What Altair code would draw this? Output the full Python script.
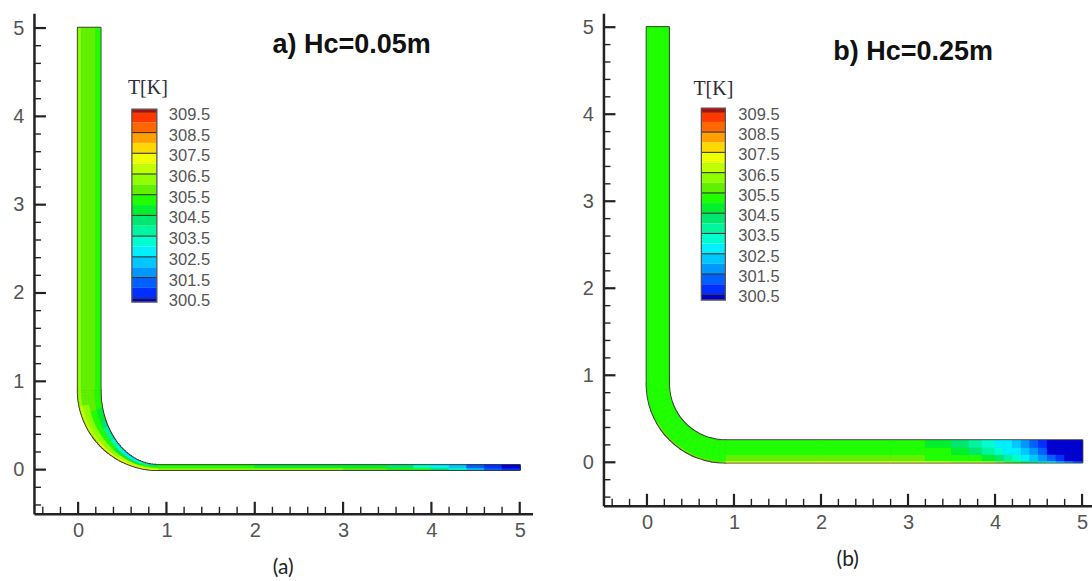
import math
import altair as alt
import pandas as pd

# ---------------- shared values ----------------
LEVELS = [300.5, 301.0, 301.5, 302.0, 302.5, 303.0, 303.5, 304.0, 304.5, 305.0,
          305.5, 306.0, 306.5, 307.0, 307.5, 308.0, 308.5, 309.0, 309.5]
BAND_COLORS = ["#0000d0", "#0030ff", "#0060ff", "#0098ff", "#00c8ff", "#00f0ff",
               "#00ffd0", "#00f5a0", "#00e870", "#00f030", "#20ff00", "#60f000",
               "#90ff00", "#c0ff00", "#f0ff00", "#ffd800", "#ffa000", "#ff6800",
               "#ff3800", "#d00000"]
LEGEND_LABELS = [309.5, 308.5, 307.5, 306.5, 305.5, 304.5, 303.5, 302.5, 301.5, 300.5]
MAJOR_TICKS = [0, 1, 2, 3, 4, 5]
MINOR_TICKS = [-0.4, -0.2, 0.2, 0.4, 0.6, 0.8, 1.2, 1.4, 1.6, 1.8, 2.2, 2.4, 2.6, 2.8,
               3.2, 3.4, 3.6, 3.8, 4.2, 4.4, 4.6, 4.8]

# ---------------- panel a : Hc = 0.05 m ----------------
A_TITLE = "a) Hc=0.05m"
A_CAPTION = "(a)"
A_DUCT_W = 0.25
A_TOP = 5.0
A_CX, A_CY, A_R_OUT = 0.9, 0.9, 0.9
A_IN_AX, A_IN_AY = 0.65, 0.85          # inner wall of the bend (semi-axes)
A_X_END = 5.0
A_HC = 0.05
A_V_XEDGES = [0.0, 0.035, 0.09, 0.2, 0.25]
A_V_T = [306.4, 305.9, 305.7, 305.4]
A_E_FRAC = [0.0, 0.15, 0.45, 0.75, 1.0]
A_E_T = [
    [306.4, 306.4, 306.5, 306.6, 306.7, 306.8, 306.9, 307.0, 307.0, 307.1, 307.2, 307.2, 307.3, 307.3, 307.2],
    [305.9, 305.9, 306.0, 306.1, 306.2, 306.2, 306.3, 306.3, 306.4, 306.4, 306.5, 306.5, 306.6, 306.6, 306.5],
    [305.6, 305.6, 305.5, 305.4, 305.4, 305.3, 305.2, 305.1, 305.0, 304.9, 304.8, 304.8, 304.9, 305.1, 305.3],
    [305.3, 305.2, 305.0, 304.8, 304.5, 304.2, 303.9, 303.6, 303.3, 303.1, 302.9, 302.9, 303.1, 303.6, 304.4],
]
A_H_XEDGES = [0.9, 2.0, 3.0, 3.5, 3.8, 4.0, 4.2, 4.4, 4.6, 4.8, 5.0]
A_H_YEDGES = [0.0, 0.02, 0.05]
A_H_T = [
    [306.3, 306.0, 305.7, 305.4, 305.0, 304.2, 303.2, 302.2, 301.4, 300.8],
    [305.2, 304.8, 304.6, 304.2, 303.4, 302.8, 302.0, 301.2, 300.6, 300.3],
]

# ---------------- panel b : Hc = 0.25 m ----------------
B_TITLE = "b) Hc=0.25m"
B_CAPTION = "(b)"
B_DUCT_W = 0.25
B_TOP = 5.0
B_CX, B_CY, B_R_OUT = 0.9, 0.9, 0.9
B_IN_AX, B_IN_AY = 0.65, 0.65
B_X_END = 5.0
B_HC = 0.25
B_V_XEDGES = [0.0, 0.02, 0.25]
B_V_T = [305.4, 305.2]
B_E_FRAC = [0.0, 0.08, 1.0]
B_E_T = [
    [305.3, 305.4, 305.5, 305.6, 305.7, 305.8],
    [305.2, 305.2, 305.2, 305.2, 305.2, 305.2],
]
B_H_XEDGES = [0.9, 2.0, 2.8, 3.2, 3.5, 3.7, 3.85, 4.0, 4.1, 4.2, 4.3, 4.4, 4.5,
              4.6, 4.7, 4.8, 4.9, 5.0]
B_H_YEDGES = [0.0, 0.015, 0.09, 0.17, 0.25]
B_H_T = [
    [307.2, 307.2, 307.1, 307.0, 306.9, 306.8, 306.6, 306.2, 305.8, 305.3, 304.8, 304.2, 303.6, 303.0, 302.4, 301.8, 301.2],
    [305.8, 305.7, 305.6, 305.4, 305.2, 305.1, 304.8, 304.4, 303.9, 303.3, 302.7, 302.2, 301.6, 301.1, 300.6, 300.4, 300.3],
    [305.3, 305.3, 305.2, 305.1, 304.8, 304.4, 303.9, 303.3, 302.9, 302.6, 302.2, 301.7, 301.2, 300.4, 300.3, 300.3, 300.3],
    [305.2, 305.2, 305.2, 304.8, 304.2, 303.7, 303.2, 302.8, 302.6, 302.2, 301.8, 301.3, 300.8, 300.3, 300.3, 300.3, 300.3],
]

# legend bar extents (temperature at bar top / bottom)
A_LEG_RANGE = [300.32, 309.63]
B_LEG_RANGE = [300.22, 309.68]

# ---------------- styling ----------------
BORDER = "#3a3a3a"
AXIS_COLOR = "#222222"
LABEL_COLOR = "#555555"
GEO_SPLIT = 3            # drawing sub-sectors per temperature sector in the bend
CSCALE = alt.Scale(type="threshold", domain=LEVELS, range=BAND_COLORS)


def rect_cells(xe, ye, T):
    rows = []
    for k in range(len(ye) - 1):
        for i in range(len(xe) - 1):
            rows.append(dict(x0=xe[i], x1=xe[i + 1], y0=ye[k], y1=ye[k + 1], T=T[k][i]))
    return pd.DataFrame(rows)


def inner_radius(phi, ax, ay):
    # distance from the bend centre to the inner wall (ellipse) along direction phi
    return 1.0 / math.sqrt((math.cos(phi) / ax) ** 2 + (math.sin(phi) / ay) ** 2)


def elbow_cells(cx, cy, R, ax, ay, frac, T):
    n_t = len(T[0])
    n = n_t * GEO_SPLIT
    d = (math.pi / 2) / n
    rows = []
    for j in range(n):
        t1 = 1.5 * math.pi - j * d
        t0 = t1 - d
        rin = inner_radius(math.pi + (j + 0.5) * d, ax, ay)
        for k in range(len(frac) - 1):
            ro = R - frac[k] * (R - rin)
            ri = R - frac[k + 1] * (R - rin)
            rows.append(dict(cx=cx, cy=cy, t0=t0, t1=t1, ro=ro, ri=ri, T=T[k][j // GEO_SPLIT]))
    return pd.DataFrame(rows)


def panel(p):
    K, W, H = p["K"], p["W"], p["H"]
    xs = alt.Scale(domain=[-0.5, -0.5 + W / K], nice=False, zero=False)
    ys = alt.Scale(domain=[-0.5, -0.5 + H / K], nice=False, zero=False)
    rs = alt.Scale(type="linear", domain=[0, 1], range=[0, K], nice=False)
    ax_x = alt.Axis(values=MAJOR_TICKS, ticks=False, grid=False, title=None, format="d",
                    labelFont="Liberation Sans", labelFontSize=20, labelColor=LABEL_COLOR,
                    labelPadding=7, domainColor=AXIS_COLOR, domainWidth=2.5)
    ax_y = alt.Axis(values=MAJOR_TICKS, ticks=False, grid=False, title=None, format="d",
                    labelFont="Liberation Sans", labelFontSize=20, labelColor=LABEL_COLOR,
                    labelPadding=10, domainColor=AXIS_COLOR, domainWidth=2.5)

    def X(f):
        return alt.X(f, scale=xs, axis=ax_x)

    def Y(f):
        return alt.Y(f, scale=ys, axis=ax_y)

    v_cells = rect_cells(p["v_xe"], [p["cy"], p["top"]], [p["v_t"]])
    h_cells = rect_cells(p["h_xe"], p["h_ye"], p["h_t"])
    cells = pd.concat([v_cells, h_cells], ignore_index=True)
    e_cells = elbow_cells(p["cx"], p["cy"], p["r_out"], p["in_ax"], p["in_ay"], p["frac"], p["e_t"])
    back_r = pd.DataFrame([
        dict(x0=0.0, x1=p["w"], y0=p["cy"], y1=p["top"]),
        dict(x0=p["cx"], x1=p["x_end"], y0=0.0, y1=p["hc"]),
    ])
    back_e = elbow_cells(p["cx"], p["cy"], p["r_out"], p["in_ax"], p["in_ay"], [0.0, 1.0],
                         [p["e_t"][0]])

    arc_enc = dict(
        x=X("cx:Q"), y=Y("cy:Q"),
        theta=alt.Theta("t0:Q", scale=None, stack=False), theta2=alt.Theta2("t1"),
        radius=alt.Radius("ro:Q", scale=rs), radius2=alt.Radius2("ri"),
    )
    l_back_r = alt.Chart(back_r).mark_rect(fill=BORDER, stroke=BORDER, strokeWidth=2.6,
                                           strokeJoin="round").encode(
        x=X("x0:Q"), x2="x1", y=Y("y0:Q"), y2="y1")
    l_back_e = alt.Chart(back_e).mark_arc(fill=BORDER, stroke=BORDER, strokeWidth=2.6,
                                          strokeJoin="round").encode(**arc_enc)
    l_cells = alt.Chart(cells).mark_rect(strokeWidth=0.7).encode(
        x=X("x0:Q"), x2="x1", y=Y("y0:Q"), y2="y1",
        color=alt.Color("T:Q", scale=CSCALE, legend=None),
        stroke=alt.Stroke("T:Q", scale=CSCALE, legend=None))
    l_ecells = alt.Chart(e_cells).mark_arc(strokeWidth=0.7).encode(
        color=alt.Color("T:Q", scale=CSCALE, legend=None),
        stroke=alt.Stroke("T:Q", scale=CSCALE, legend=None), **arc_enc)

    major = pd.DataFrame({"v": MAJOR_TICKS})
    minor = pd.DataFrame({"v": MINOR_TICKS})
    t_ymaj = alt.Chart(major).mark_rule(color=AXIS_COLOR, strokeWidth=2.2).encode(
        y=Y("v:Q"), x=alt.value(0), x2=alt.value(12))
    t_ymin = alt.Chart(minor).mark_rule(color=AXIS_COLOR, strokeWidth=1.4).encode(
        y=Y("v:Q"), x=alt.value(0), x2=alt.value(7))
    t_xmaj = alt.Chart(major).mark_rule(color=AXIS_COLOR, strokeWidth=2.2).encode(
        x=X("v:Q"), y=alt.value(H), y2=alt.value(H - 12))
    t_xmin = alt.Chart(minor).mark_rule(color=AXIS_COLOR, strokeWidth=1.4).encode(
        x=X("v:Q"), y=alt.value(H), y2=alt.value(H - 7))

    title = alt.Chart(pd.DataFrame({"t": [p["title"]]})).mark_text(
        font="Liberation Sans", fontWeight="bold", fontSize=27, color="#111111",
        align="center", baseline="middle").encode(
        x=alt.value(p["tx"]), y=alt.value(p["ty"]), text="t:N")

    main = alt.layer(l_back_r, l_back_e, l_cells, l_ecells,
                     t_ymaj, t_ymin, t_xmaj, t_xmin, title)

    # legend (colour bar) drawn from the same colour scale
    lo, hi = p["leg"]
    edges = [lo] + LEVELS + [hi]
    bands = pd.DataFrame([dict(lo=edges[i], hi=edges[i + 1], Tm=(edges[i] + edges[i + 1]) / 2)
                          for i in range(len(edges) - 1)])
    ly = alt.Scale(domain=[lo, hi], range=[p["leg_bot"], p["leg_top"]], nice=False, zero=False)

    def LY(f):
        return alt.Y(f, scale=ly, axis=None)

    bx0, bx1 = p["leg_x0"], p["leg_x1"]
    g_bands = alt.Chart(bands).mark_rect().encode(
        y=LY("lo:Q"), y2="hi", x=alt.value(bx0), x2=alt.value(bx1),
        color=alt.Color("Tm:Q", scale=CSCALE, legend=None))
    labs = pd.DataFrame({"v": LEGEND_LABELS, "lbl": [f"{v:.1f}" for v in LEGEND_LABELS]})
    g_seps = alt.Chart(labs).mark_rule(color="#333333", strokeWidth=1.1).encode(
        y=LY("v:Q"), x=alt.value(bx0), x2=alt.value(bx1))
    g_box = alt.Chart(pd.DataFrame({"lo": [lo], "hi": [hi]})).mark_rect(
        fillOpacity=0, stroke="#555555", strokeWidth=1.3).encode(
        y=LY("lo:Q"), y2="hi", x=alt.value(bx0), x2=alt.value(bx1))
    g_labs = alt.Chart(labs).mark_text(
        align="left", baseline="middle", dy=3, font="Liberation Sans", fontSize=16.5,
        color=LABEL_COLOR).encode(y=LY("v:Q"), x=alt.value(p["leg_lx"]), text="lbl:N")
    g_head = alt.Chart(pd.DataFrame({"t": ["T[K]"]})).mark_text(
        font="Liberation Serif", fontSize=20, color="#2e2a3a", align="center",
        baseline="middle").encode(x=alt.value(p["leg_hx"]), y=alt.value(p["leg_hy"]), text="t:N")
    legend = alt.layer(g_bands, g_seps, g_box, g_labs, g_head)

    return alt.layer(main, legend).resolve_scale(y="independent").properties(
        width=W, height=H,
        title=alt.TitleParams(p["caption"], orient="bottom", anchor="middle", frame="group",
                              font="Lato", fontSize=21, fontWeight="normal",
                              color="#222222", offset=16))


PA = dict(K=88.4, W=499, H=501, title=A_TITLE, caption=A_CAPTION, w=A_DUCT_W, top=A_TOP,
          cx=A_CX, cy=A_CY, r_out=A_R_OUT, in_ax=A_IN_AX, in_ay=A_IN_AY, x_end=A_X_END, hc=A_HC,
          v_xe=A_V_XEDGES, v_t=A_V_T, frac=A_E_FRAC, e_t=A_E_T,
          h_xe=A_H_XEDGES, h_ye=A_H_YEDGES, h_t=A_H_T,
          tx=318, ty=32, leg=A_LEG_RANGE, leg_top=96, leg_bot=289,
          leg_x0=98, leg_x1=123, leg_lx=135, leg_hx=114, leg_hy=75)
PB = dict(K=87.1, W=489, H=493, title=B_TITLE, caption=B_CAPTION, w=B_DUCT_W, top=B_TOP,
          cx=B_CX, cy=B_CY, r_out=B_R_OUT, in_ax=B_IN_AX, in_ay=B_IN_AY, x_end=B_X_END, hc=B_HC,
          v_xe=B_V_XEDGES, v_t=B_V_T, frac=B_E_FRAC, e_t=B_E_T,
          h_xe=B_H_XEDGES, h_ye=B_H_YEDGES, h_t=B_H_T,
          tx=310, ty=39, leg=B_LEG_RANGE, leg_top=95, leg_bot=287,
          leg_x0=98, leg_x1=122, leg_lx=135, leg_hx=110, leg_hy=76)

chart = alt.hconcat(panel(PA), panel(PB), spacing=49).resolve_scale(
    x="independent", y="independent", radius="independent"
).configure_view(strokeWidth=0).properties(
    padding={"left": 12, "top": 13, "right": 0, "bottom": 0}
)

chart.save("out.html", embed_options={"renderer": "svg", "actions": False})
